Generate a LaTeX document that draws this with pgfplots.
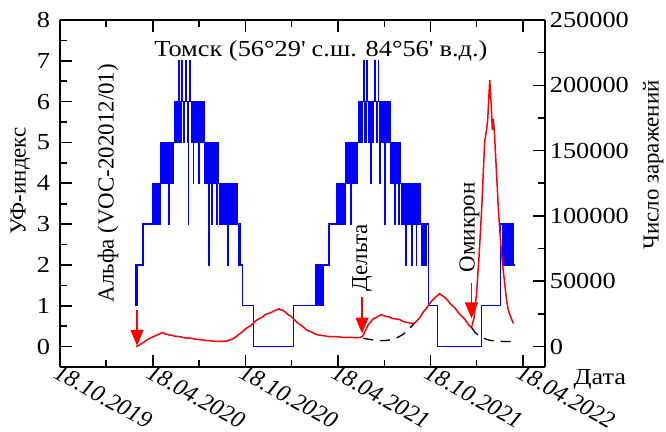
\documentclass[border=0pt]{standalone}
\usepackage{fontspec}
\setmainfont{Liberation Serif}[FakeStretch=1.15]
\newfontfamily\plainserif{Liberation Serif}
\usepackage{pgfplots}
\pgfplotsset{compat=1.18}
\usetikzlibrary{arrows.meta}

% x = days since 18.10.2019
\pgfplotsset{
  chartaxis/.style={
    at={(0,0)}, anchor=south west,
    scale only axis, width=485bp, height=347bp,
    xmin=0, xmax=957,
    axis line style={line width=1.6bp},
    tick style={line width=1.6bp, black},
    tick align=inside,
    major tick length=12bp, minor tick length=7bp,
    /pgf/number format/assume math mode=true,
  }
}

\begin{document}
\fontsize{23}{27}\selectfont
\begin{tikzpicture}
\useasboundingbox (-60bp,-65bp) rectangle (606bp,367bp);

\begin{axis}[chartaxis,
  ymin=-0.5, ymax=8,
  axis y line*=left,
  xtick={0,183,366,548,731,913},
  minor xtick={91,274,457,640,822},
  xticklabels={18.10.2019,18.04.2020,18.10.2020,18.04.2021,18.10.2021,18.04.2022},
  xticklabel style={inner sep=0pt, xshift=0bp, yshift=4bp, rotate=-29, anchor=north west,
    font=\plainserif\itshape\fontsize{24}{28}\selectfont},
  ytick={0,1,...,8},
  minor ytick={0.5,1.5,...,7.5},
  yticklabel style={xshift=-2bp},
  ylabel={\plainserif УФ-индекс},
  ylabel style={at={(axis description cs:-0.082,0.536)}, anchor=center},
  clip=false,
]
\addplot[blue, line width=1.4bp, const plot] coordinates {
(148,1)(149,2)(150,1)(151,2)(152,1)(153,2)(164,3)(182,4)(183,3)(185,4)(186,3)
(188,4)(189,3)(191,4)(193,3)(194,4)(196,3)(198,4)(199,5)(201,4)(203,5)(204,4)
(206,5)(208,4)(210,5)(212,4)(214,3)(215,5)(217,4)(219,5)(221,4)(223,5)(226,6)
(228,5)(230,6)(232,5)(234,7)(235,6)(237,5)(239,6)(241,7)(242,6)(244,5)(246,6)
(248,7)(249,6)(251,5)(253,3)(254,6)(256,7)(257,6)(259,5)(261,6)(263,4)(264,6)
(266,5)(268,6)(270,5)(272,6)(274,4)(275,6)(277,5)(279,6)(281,5)(283,6)(285,4)
(286,5)(289,4)(291,5)(293,2)(294,5)(296,4)(298,5)(300,3)(301,5)(303,4)(305,5)
(307,4)(309,3)(310,5)(312,4)(315,3)(317,4)(319,3)(321,4)(323,3)(325,4)(327,3)
(329,4)(331,2)(332,4)(334,3)(336,4)(338,3)(340,4)(342,3)(344,4)(345,3)(348,4)
(349,3)(352,2)(353,3)(356,2)(360,1)(382,0)(461,1)
(505,2)(506,1)(508,2)(509,1)(511,2)(512,1)(514,2)(515,1)(517,2)(518,1)(520,2)
(531,3)(545,4)(546,3)(548,4)(549,3)(551,4)(553,3)(555,4)(557,3)(559,4)(561,3)
(563,4)(564,5)(566,4)(568,5)(570,4)(572,5)(574,3)(575,5)(577,4)(579,5)(581,4)
(583,5)(585,4)(587,5)(589,6)(591,5)(593,6)(595,5)(597,6)(599,7)(600,6)(602,5)
(604,6)(606,7)(607,6)(609,5)(611,6)(613,4)(614,6)(616,5)(618,6)(621,7)(622,6)
(624,5)(626,6)(628,7)(629,6)(631,4)(632,6)(634,5)(636,6)(638,5)(640,3)(641,6)
(643,5)(645,6)(647,5)(649,6)(651,5)(653,4)(655,5)(657,4)(659,5)(661,3)(662,5)
(664,4)(666,5)(668,3)(669,5)(671,4)(675,3)(677,4)(679,3)(681,4)(683,2)(684,4)
(686,3)(688,4)(690,3)(692,4)(694,2)(695,4)(697,3)(699,4)(701,3)(703,2)(704,4)
(706,3)(708,4)(710,3)(713,2)(714,3)(717,2)(718,3)(721,2)(722,3)(727,1)(745,0)
(832,1)(869,3)(874,2)(876,3)(878,2)(880,3)(883,2)(884,3)(886,2)(888,3)(890,2)
(892,3)(895,2)(897,2)
};
% annotations
\node[anchor=center] at (axis description cs:0.538,0.911) {Томск (56°29\textquotesingle{} с.ш. 84°56\textquotesingle{} в.д.)};
\node[rotate=90, anchor=west, font=\plainserif] at (axis cs:95,0.89) {Альфа (VOC-202012/01)};
\node[rotate=90, anchor=west, font=\plainserif] at (axis cs:596,1.16) {Дельта};
\node[rotate=90, anchor=west, font=\plainserif] at (axis cs:808,1.63) {Омикрон};
\draw[red, line width=1.5bp, -{Triangle[length=16bp,width=13bp]}] (axis cs:152,0.89) -- (axis cs:152,0.02);
\draw[red, line width=1.5bp, -{Triangle[length=16bp,width=13bp]}] (axis cs:596,1.21) -- (axis cs:596,0.32);
\draw[red, line width=1.5bp, -{Triangle[length=16bp,width=13bp]}] (axis cs:812,1.56) -- (axis cs:812,0.69);
\node[anchor=center] at (axis description cs:1.113,-0.037) {Дата};
\end{axis}

\begin{axis}[chartaxis,
  ymin=-15625, ymax=250000,
  axis x line=none, axis y line*=right,
  ytick={0,50000,...,250000},
  minor ytick={25000,75000,...,225000},
  scaled y ticks=false,
  yticklabel style={xshift=-3bp, /pgf/number format/.cd, fixed, 1000 sep={}},
  ylabel={\plainserif Число заражений},
  ylabel style={at={(axis description cs:1.223,0.582)}, anchor=center, rotate=0},
]
\addplot[red, line width=1.5bp] coordinates {
(150,0)(155,800)(160,2100)(165,3200)(170,4700)(175,5700)(180,6900)(185,7700)
(190,8700)(195,9400)(200,10300)(203,10800)(206,9700)(210,9600)(215,8900)
(220,8800)(225,8100)(230,7900)(235,7600)(240,7300)(245,6800)(250,6500)(255,6600)
(260,6300)(265,5800)(270,5500)(275,5400)(280,5100)(285,4900)(290,4500)
(295,4600)(300,4300)(305,4100)(310,3900)(315,4100)(320,4000)(325,4200)(330,4300)
(334,5000)(338,5500)(342,6200)(345,6900)(349,8000)(352,9100)(356,10100)(360,11400)
(365,13200)(370,14700)(375,15700)(380,17300)(385,19300)(390,20700)(395,21600)
(400,22800)(405,24400)(410,25200)(415,25800)(420,26800)(424,27700)(428,28200)
(432,28900)(436,27900)(439,27800)(442,27200)(446,25900)(450,24400)(455,23400)
(460,21700)(465,19500)(470,17800)(475,16600)(480,15000)(485,13200)(490,12000)
(495,11400)(500,10400)(505,9400)(510,8900)(515,8700)(520,8300)(528,7800)(535,7600)
(542,7600)(550,7400)(558,7100)(565,6900)(572,7100)(580,6900)(586,6800)(592,7000)
(596,7600)(600,10000)(605,14200)(608,16500)(612,18300)(616,20400)(620,21700)
(624,22200)(628,23300)(631,23900)(634,24500)(637,23800)(640,23600)(645,22900)
(650,22700)(655,21600)(660,21300)(665,21000)(670,20700)(675,19700)(680,18800)
(685,18500)(690,18000)(694,17800)(697,17500)(700,18200)(703,19200)(706,20500)
(710,22300)(714,24800)(718,27200)(722,28700)(726,30800)(730,33200)(734,35200)
(738,36600)(742,38300)(746,39400)(749,40600)(752,39600)(755,38800)(758,38000)
(762,36700)(766,34900)(770,32800)(775,31200)(780,29200)(785,26600)(790,24300)
(795,22500)(800,20200)(803,18600)(806,16800)(809,15400)(812,14700)(817,22000)
(822,41000)(827,70000)(832,105000)(836,140000)(838,157000)(842,167000)(844,174000)
(846,190000)(848,204000)(850,190000)(851,184000)(853,166000)(855,174000)
(857,165000)(859,150000)(862,128000)(865,105000)(868,88000)(871,72000)
(874,60000)(877,50000)(881,36000)(884,29000)(887,25000)(891,21000)(895,17700)
};
\addplot[black, line width=1.3bp, dash pattern=on 10bp off 7bp, smooth] coordinates {
(598,6300)(620,5000)(640,4600)(660,6000)(679,10000)(699,17700)
};
\addplot[black, line width=1.3bp, dash pattern=on 10bp off 7bp, smooth] coordinates {
(812,14700)(820,10500)(828,8000)(840,5800)(851,4600)(870,4000)(895,3800)
};
\end{axis}
\end{tikzpicture}
\end{document}
